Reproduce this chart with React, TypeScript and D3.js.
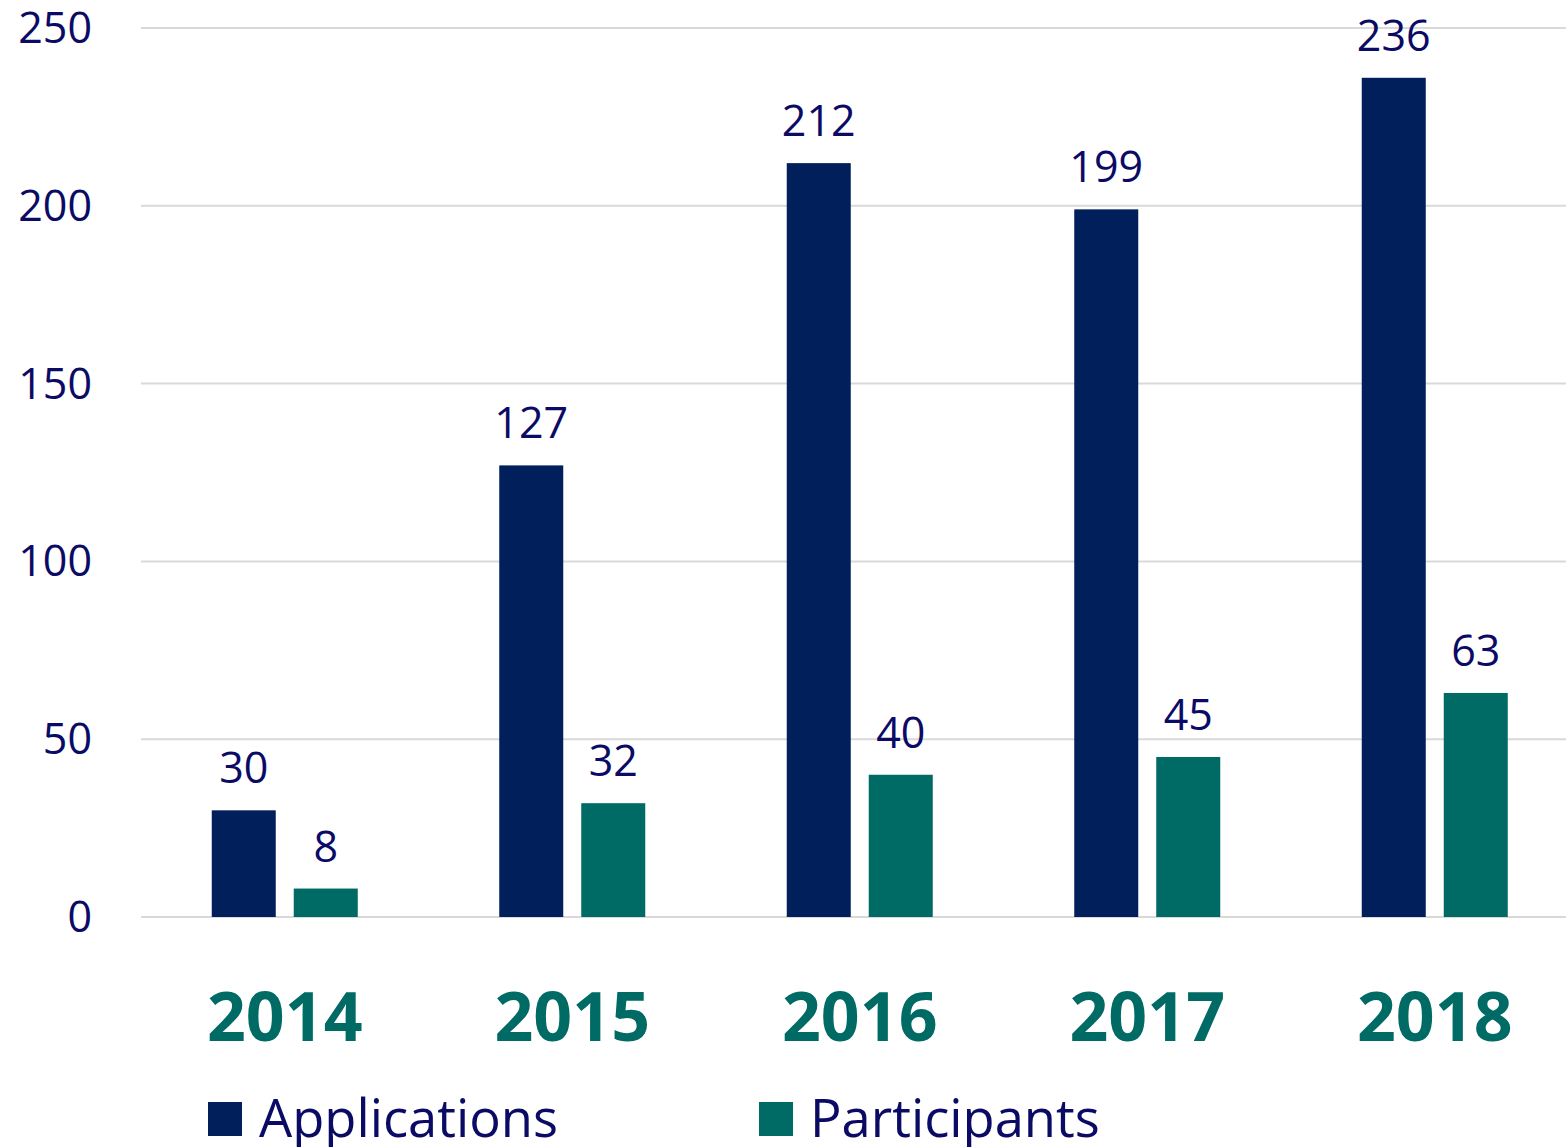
import React from "react";
import * as d3 from "d3";

const years = ["2014", "2015", "2016", "2017", "2018"];
const applications = [30, 127, 212, 199, 236];
const participants = [8, 32, 40, 45, 63];
const seriesNames = ["Applications", "Participants"];
const yTicks = [0, 50, 100, 150, 200, 250];

const W = 1566;
const H = 1147;
const NAVY = "#001F5B";
const TEAL = "#006A64";
const TEXT = "#0B0B66";
const FONT = "'Open Sans', 'Noto Sans', sans-serif";

export default function App() {
  const y = d3.scaleLinear().domain([0, 250]).range([917, 28]);
  const x0 = d3.scaleBand<string>().domain(years).range([141, 1578.5]).paddingInner(0).paddingOuter(0);
  const step = 82;
  const bw = 64;
  const x1 = d3
    .scaleBand<string>()
    .domain(seriesNames)
    .range([0, x0.bandwidth()])
    .paddingInner((step - bw) / step)
    .paddingOuter((x0.bandwidth() / step - 2 + (step - bw) / step) / 2);
  const colors = [NAVY, TEAL];
  const series = [applications, participants];

  return (
    <svg width={W} height={H} style={{ position: "absolute", left: 0, top: 0, background: "#fff" }} fontFamily={FONT}>
      {yTicks.map((t) => (
        <g key={t}>
          <line x1={141} x2={W} y1={y(t)} y2={y(t)} stroke="#D9D9D9" strokeWidth={2} />
          <text x={92} y={y(t) + 15} textAnchor="end" fontSize={43} fill={TEXT}>
            {t}
          </text>
        </g>
      ))}
      {years.map((yr, i) => (
        <g key={yr}>
          {series.map((s, j) => {
            const bx = (x0(yr) as number) + (x1(seriesNames[j]) as number);
            const w = x1.bandwidth();
            return (
              <g key={j}>
                <rect x={bx} y={y(s[i])} width={w} height={y(0) - y(s[i])} fill={colors[j]} />
                <text x={bx + w / 2} y={y(s[i]) - 27} textAnchor="middle" fontSize={43} fill={TEXT}>
                  {s[i]}
                </text>
              </g>
            );
          })}
          <text
            x={(x0(yr) as number) + x0.bandwidth() / 2}
            y={1041}
            textAnchor="middle"
            fontSize={68}
            fontWeight="bold"
            fill={TEAL}
          >
            {yr}
          </text>
        </g>
      ))}
      {seriesNames.map((n, j) => {
        const lx = [208, 759][j];
        return (
          <g key={n}>
            <rect x={lx} y={1102} width={34} height={34} fill={colors[j]} />
            <text x={lx + 51} y={1137} fontSize={52.5} fill={TEXT}>
              {n}
            </text>
          </g>
        );
      })}
    </svg>
  );
}
